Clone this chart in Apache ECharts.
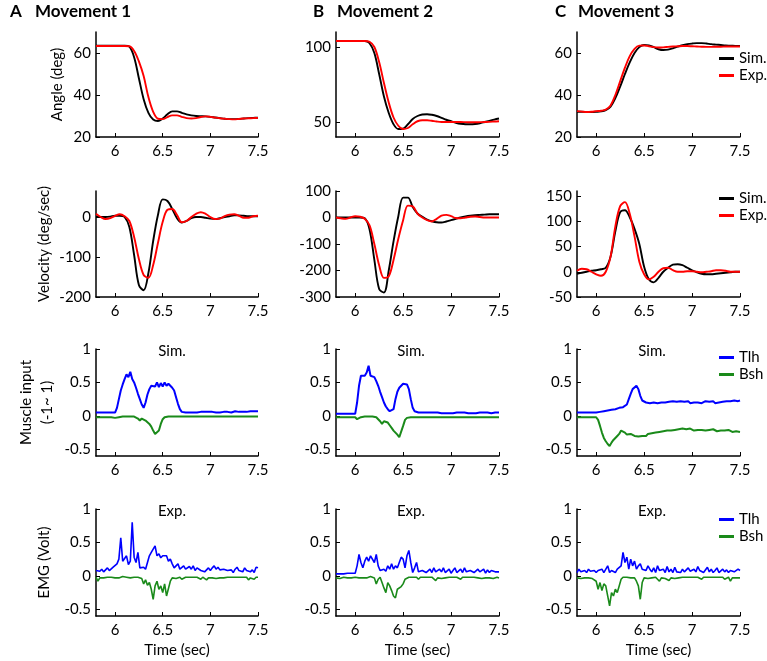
<!DOCTYPE html>
<html><head><meta charset="utf-8">
<script src="https://cdn.jsdelivr.net/npm/echarts@6/dist/echarts.min.js"></script>
<style>html,body{margin:0;padding:0;background:#fff}#c{width:767px;height:661px}</style>
</head><body><div id="c"></div>
<script>
// ---------- time bases ----------
const T1 = [5.8,5.85,5.9,5.95,6,6.05,6.1,6.15,6.2,6.25,6.3,6.35,6.4,6.45,6.5,6.55,6.6,6.65,6.7,6.75,6.8,6.85,6.9,6.95,7,7.05,7.1,7.15,7.2,7.25,7.3,7.35,7.4,7.45,7.5];
const T2 = [5.8,5.82,5.84,5.86,5.88,5.9,5.92,5.94,5.96,5.98,
 6,6.02,6.04,6.06,6.08,6.1,6.12,6.14,6.16,6.18,
 6.2,6.22,6.24,6.26,6.28,6.3,6.32,6.34,6.36,6.38,
 6.4,6.42,6.44,6.46,6.48,6.5,6.52,6.54,6.56,6.58,
 6.6,6.62,6.64,6.66,6.68,6.7,6.72,6.74,6.76,6.78,
 6.8,6.82,6.84,6.86,6.88,6.9,6.92,6.94,6.96,6.98,
 7,7.02,7.04,7.06,7.08,7.1,7.12,7.14,7.16,7.18,
 7.2,7.22,7.24,7.26,7.28,7.3,7.32,7.34,7.36,7.38,
 7.4,7.42,7.44,7.46,7.48,7.5];

// ---------- tick labels ----------
const xTicks = [6, 6.5, 7, 7.5];
const yTicksAngleA = [20, 40, 60];
const yTicksAngleB = [50, 100];
const yTicksAngleC = [20, 40, 60];
const yTicksVelA = [-200, -100, 0];
const yTicksVelB = [-300, -200, -100, 0, 100];
const yTicksVelC = [-50, 0, 50, 100, 150];
const yTicksMus = [-0.5, 0, 0.5, 1];

// ---------- angle (deg) ----------
const angleSimA = [63.5,63.5,63.5,63.5,63.5,63.5,63.5,63,58,48,38,31.5,28.3,27.6,28.8,30.8,32.2,32.2,31.5,30.8,30.3,30,29.9,29.8,29.6,29.3,29,28.7,28.5,28.5,28.6,28.8,29,29.1,29.2];
const angleExpA = [63.3,63.3,63.3,63.3,63.3,63.3,63.3,63.2,61,56,49,39,32,28.7,28.5,29.5,30.3,30.3,29.6,29,28.8,29,29.5,29.8,29.6,29.2,28.9,28.7,28.5,28.4,28.6,28.8,28.9,29,29.1];
const angleSimB = [104,104,104,104,104,104,104,102.5,96,82,67,56,48.5,45.3,45.5,48.5,52,54,55,55.2,54.8,54,52.8,51.5,50.5,49.5,48.8,48.5,48.5,48.7,49.2,50,50.8,51.6,52.3];
const angleExpB = [104,104,104,104,104,104,104,103.5,100,90,76,63,53,47.5,45.3,46,48.5,50.5,51.2,51.2,50.8,50.3,50,50,50,50,50,49.9,49.8,49.8,49.9,50,50.1,50.3,50.5];
const angleSimC = [32,32,31.9,31.9,32,32.2,32.8,34.5,38.5,44,50,55.5,60,62.8,63.8,63.6,62.8,61.8,61.4,61.6,62.2,63,63.7,64.2,64.5,64.7,64.7,64.5,64.2,64,63.8,63.6,63.5,63.4,63.3];
const angleExpC = [32.3,32.1,31.9,32,32.3,32.5,33,35,40,46.5,53,58.5,62,63.5,63.6,63.2,62.8,62.6,62.7,62.9,63.1,63.2,63.3,63.3,63.2,63.1,63,62.9,62.9,63,63,63.1,63.1,63.1,63.1];

// ---------- velocity (deg/sec) ----------
const velSimA = [0,0,0,1,3,3,0,-25,-95,-170,-183,-140,-60,5,44,40,20,-3,-14,-10,-3,0,0,-2,-4,-5,-3,0,2,4,4,3,2,2,2];
const velExpA = [8,0,-5,-3,3,7,2,-10,-50,-105,-145,-152,-120,-65,-12,18,20,5,-13,-10,0,8,12,8,0,-5,-4,2,6,7,3,-2,-2,2,3];
const velSimB = [0,0,0,0,0,0,-3,-45,-160,-270,-283,-200,-90,5,75,75,40,15,3,-8,-14,-18,-19,-15,-10,-5,0,4,7,9,10,11,12,12,12];
const velExpB = [0,-3,-5,0,5,3,-5,-30,-100,-180,-228,-222,-160,-80,-10,45,42,15,0,-10,-15,-5,7,10,5,-2,-3,0,3,4,2,0,0,0,0];
const velSimC = [-4,-2,0,2,3,5,8,30,80,118,122,108,85,55,10,-15,-21,-12,0,8,14,15,13,8,3,-1,-4,-5,-5,-4,-3,-2,-1,0,0];
const velExpC = [2,6,5,0,-5,-8,0,30,90,130,138,115,70,20,-5,-15,-10,0,7,8,3,0,0,1,1,0,-1,0,1,3,3,2,0,0,0];

// ---------- simulated muscle input ----------
const simTlhA = [0.05,0.05,0.05,0.05,0.05,0.05,0.05,0.05,0.05,0.05,
 0.05,0.12,0.25,0.38,0.47,0.55,0.62,0.58,0.66,0.55,
 0.5,0.42,0.33,0.25,0.17,0.12,0.2,0.32,0.4,0.45,
 0.47,0.44,0.5,0.43,0.49,0.44,0.5,0.45,0.48,0.48,
 0.42,0.38,0.28,0.18,0.1,0.06,0.05,0.05,0.06,0.05,
 0.06,0.05,0.06,0.05,0.06,0.06,0.05,0.06,0.05,0.06,
 0.05,0.06,0.06,0.05,0.06,0.05,0.06,0.06,0.05,0.06,
 0.06,0.05,0.06,0.07,0.06,0.06,0.07,0.06,0.07,0.06,
 0.07,0.07,0.06,0.07,0.07,0.07];
const simBshA = [-0.02,-0.02,-0.02,-0.02,-0.02,-0.02,-0.02,-0.02,-0.02,-0.02,
 -0.03,-0.02,-0.02,-0.02,-0.01,-0.01,-0.01,-0.01,-0.01,-0.01,
 -0.01,-0.02,-0.04,-0.07,-0.04,-0.05,-0.07,-0.09,-0.12,-0.16,
 -0.22,-0.27,-0.28,-0.22,-0.12,-0.05,-0.02,-0.01,-0.01,-0.01,
 -0.01,-0.01,-0.01,-0.01,-0.01,-0.01,-0.01,-0.01,-0.01,-0.01,
 -0.01,-0.01,-0.01,-0.01,-0.01,-0.01,-0.01,-0.01,-0.01,-0.01,
 -0.01,-0.01,-0.01,-0.01,-0.01,-0.01,-0.01,-0.01,-0.01,-0.01,
 -0.01,-0.01,-0.01,-0.01,-0.01,-0.01,-0.01,-0.01,-0.01,-0.01,
 -0.01,-0.01,-0.01,-0.01,-0.01,-0.01];
const simTlhB = [0.03,0.03,0.03,0.03,0.03,0.03,0.03,0.03,0.03,0.03,
 0.03,0.2,0.45,0.6,0.62,0.6,0.65,0.75,0.6,0.62,
 0.58,0.52,0.45,0.36,0.28,0.2,0.14,0.1,0.07,0.05,
 0.1,0.25,0.36,0.42,0.44,0.48,0.46,0.47,0.4,0.25,
 0.12,0.07,0.05,0.05,0.04,0.05,0.04,0.05,0.04,0.05,
 0.04,0.05,0.04,0.05,0.05,0.04,0.05,0.04,0.05,0.04,
 0.05,0.04,0.05,0.05,0.04,0.05,0.04,0.05,0.05,0.04,
 0.05,0.04,0.05,0.04,0.05,0.05,0.04,0.05,0.04,0.05,
 0.05,0.04,0.05,0.05,0.04,0.05];
const simBshB = [-0.02,-0.02,-0.02,-0.02,-0.02,-0.02,-0.02,-0.02,-0.02,-0.02,
 -0.02,-0.05,-0.03,-0.02,-0.02,-0.01,-0.01,-0.01,-0.01,-0.01,
 -0.01,-0.02,-0.04,-0.08,-0.12,-0.08,-0.07,-0.1,-0.14,-0.18,
 -0.22,-0.25,-0.28,-0.32,-0.3,-0.15,-0.06,-0.03,-0.02,-0.02,
 -0.02,-0.02,-0.02,-0.02,-0.02,-0.02,-0.02,-0.02,-0.02,-0.02,
 -0.02,-0.02,-0.02,-0.02,-0.02,-0.02,-0.02,-0.02,-0.02,-0.02,
 -0.02,-0.02,-0.02,-0.02,-0.02,-0.02,-0.02,-0.02,-0.02,-0.02,
 -0.02,-0.02,-0.02,-0.02,-0.02,-0.02,-0.02,-0.02,-0.02,-0.02,
 -0.02,-0.02,-0.02,-0.02,-0.02,-0.02];
const simTlhC = [0.05,0.05,0.05,0.05,0.05,0.05,0.05,0.05,0.05,0.05,
 0.05,0.05,0.06,0.06,0.07,0.07,0.08,0.09,0.09,0.1,
 0.1,0.11,0.12,0.12,0.13,0.14,0.17,0.25,0.33,0.4,
 0.42,0.45,0.4,0.3,0.23,0.21,0.2,0.22,0.19,0.21,
 0.2,0.22,0.19,0.21,0.2,0.22,0.2,0.19,0.21,0.2,
 0.22,0.2,0.21,0.19,0.22,0.2,0.21,0.2,0.22,0.19,
 0.21,0.2,0.22,0.2,0.21,0.19,0.2,0.22,0.2,0.21,
 0.2,0.22,0.19,0.21,0.2,0.22,0.21,0.2,0.22,0.21,
 0.22,0.21,0.23,0.21,0.22,0.23];
const simBshC = [-0.02,-0.02,-0.02,-0.02,-0.02,-0.02,-0.02,-0.02,-0.02,-0.02,
 -0.02,-0.06,-0.15,-0.25,-0.33,-0.38,-0.42,-0.45,-0.4,-0.36,
 -0.33,-0.3,-0.27,-0.22,-0.2,-0.25,-0.28,-0.3,-0.27,-0.29,
 -0.3,-0.28,-0.31,-0.29,-0.3,-0.28,-0.3,-0.27,-0.29,-0.26,
 -0.27,-0.25,-0.26,-0.24,-0.25,-0.23,-0.24,-0.22,-0.23,-0.22,
 -0.22,-0.21,-0.22,-0.2,-0.21,-0.19,-0.21,-0.2,-0.21,-0.19,
 -0.2,-0.22,-0.2,-0.21,-0.19,-0.21,-0.2,-0.22,-0.2,-0.21,
 -0.22,-0.2,-0.21,-0.23,-0.21,-0.22,-0.2,-0.22,-0.23,-0.21,
 -0.22,-0.24,-0.22,-0.23,-0.25,-0.24];

// ---------- experimental EMG (Volt) ----------
const emgTlhA = [0.08,0.1,0.07,0.1,0.06,0.09,0.12,0.08,0.1,0.13,
 0.12,0.18,0.25,0.57,0.22,0.2,0.3,0.17,0.22,0.8,
 0.28,0.2,0.35,0.12,0.1,0.13,0.1,0.2,0.3,0.35,
 0.4,0.45,0.3,0.33,0.27,0.3,0.28,0.3,0.22,0.25,
 0.18,0.12,0.15,0.18,0.1,0.12,0.15,0.1,0.08,0.14,
 0.1,0.15,0.08,0.12,0.14,0.08,0.1,0.06,0.09,0.12,
 0.08,0.12,0.15,0.1,0.13,0.09,0.07,0.1,0.12,0.08,
 0.06,0.09,0.05,0.1,0.13,0.08,0.1,0.06,0.12,0.08,
 0.1,0.06,0.09,0.05,0.13,0.12];
const emgBshA = [-0.02,-0.08,-0.03,-0.02,-0.03,-0.01,-0.02,-0.03,-0.02,-0.02,
 -0.03,-0.02,-0.03,-0.02,-0.01,-0.03,-0.02,-0.02,-0.03,-0.02,
 -0.02,-0.03,-0.02,-0.02,-0.04,-0.12,-0.06,-0.14,-0.1,-0.2,
 -0.35,-0.15,-0.08,-0.2,-0.15,-0.25,-0.12,-0.3,-0.28,-0.08,
 -0.03,-0.02,-0.04,-0.03,-0.02,-0.05,-0.03,-0.02,-0.03,-0.02,
 -0.03,-0.02,-0.04,-0.02,-0.03,-0.05,-0.02,-0.03,-0.06,-0.03,
 -0.02,-0.03,-0.02,-0.04,-0.02,-0.03,-0.02,-0.03,-0.05,-0.02,
 -0.03,-0.02,-0.04,-0.02,-0.03,-0.02,-0.04,-0.02,-0.03,-0.02,
 -0.06,-0.03,-0.02,-0.05,-0.02,-0.02];
const emgTlhB = [0.03,0.04,0.03,0.04,0.03,0.03,0.04,0.03,0.04,0.04,
 0.04,0.15,0.32,0.2,0.12,0.22,0.28,0.22,0.3,0.32,
 0.2,0.32,0.15,0.08,0.07,0.1,0.07,0.15,0.1,0.18,
 0.1,0.15,0.12,0.2,0.28,0.25,0.12,0.3,0.38,0.2,
 0.05,0.12,0.2,0.06,0.05,0.08,0.1,0.05,0.06,0.1,
 0.05,0.12,0.06,0.04,0.1,0.06,0.12,0.05,0.04,0.1,
 0.04,0.08,0.12,0.05,0.04,0.1,0.05,0.12,0.06,0.04,
 0.08,0.1,0.05,0.04,0.1,0.06,0.05,0.1,0.04,0.09,
 0.05,0.08,0.1,0.06,0.05,0.06];
const emgBshB = [-0.03,-0.02,-0.04,-0.03,-0.02,-0.04,-0.03,-0.02,-0.03,-0.03,
 -0.02,-0.01,-0.03,-0.02,-0.03,-0.01,-0.03,-0.02,-0.01,-0.03,
 -0.03,-0.12,-0.05,-0.02,-0.1,-0.18,-0.25,-0.1,-0.15,-0.22,
 -0.3,-0.33,-0.2,-0.22,-0.16,-0.12,-0.05,-0.03,-0.02,-0.04,
 -0.02,-0.03,-0.02,-0.05,-0.02,-0.03,-0.02,-0.04,-0.02,-0.03,
 -0.02,-0.04,-0.07,-0.03,-0.02,-0.04,-0.02,-0.03,-0.05,-0.02,
 -0.03,-0.02,-0.04,-0.02,-0.03,-0.05,-0.02,-0.03,-0.02,-0.04,
 -0.02,-0.03,-0.02,-0.04,-0.03,-0.02,-0.04,-0.02,-0.03,-0.02,
 -0.03,-0.02,-0.04,-0.02,-0.02,-0.03];
const emgTlhC = [0.05,0.1,0.06,0.05,0.08,0.05,0.1,0.07,0.05,0.08,
 0.05,0.08,0.06,0.1,0.05,0.07,0.15,0.05,0.08,0.06,
 0.05,0.1,0.08,0.15,0.35,0.2,0.28,0.1,0.25,0.15,
 0.22,0.1,0.15,0.18,0.1,0.12,0.08,0.15,0.1,0.06,
 0.12,0.05,0.15,0.08,0.06,0.1,0.05,0.14,0.06,0.1,
 0.05,0.13,0.06,0.08,0.05,0.1,0.06,0.05,0.12,0.07,
 0.05,0.1,0.06,0.14,0.08,0.1,0.05,0.07,0.13,0.06,
 0.1,0.05,0.08,0.12,0.05,0.07,0.1,0.06,0.09,0.05,
 0.08,0.1,0.06,0.05,0.1,0.08];
const emgBshC = [-0.03,-0.02,-0.04,-0.02,-0.03,-0.02,-0.03,-0.02,-0.04,-0.03,
 -0.08,-0.2,-0.1,-0.22,-0.12,-0.15,-0.3,-0.45,-0.25,-0.3,
 -0.2,-0.25,-0.15,-0.05,-0.02,-0.03,-0.02,-0.04,-0.03,-0.05,
 -0.03,-0.08,-0.15,-0.35,-0.1,-0.03,-0.02,-0.04,-0.02,-0.03,
 -0.05,-0.02,-0.04,-0.08,-0.03,-0.02,-0.04,-0.02,-0.07,-0.03,
 -0.02,-0.04,-0.02,-0.03,-0.05,-0.02,-0.03,-0.02,-0.04,-0.02,
 -0.03,-0.02,-0.04,-0.02,-0.03,-0.05,-0.02,-0.03,-0.02,-0.04,
 -0.02,-0.03,-0.02,-0.04,-0.02,-0.03,-0.02,-0.05,-0.03,-0.02,
 -0.08,-0.03,-0.02,-0.03,-0.04,-0.03];

// ---------- layout / style ----------
const FONT = 'Lato';
const COLORS = {'Sim.':'#000000','Exp.':'#ff0000','Tlh':'#0000ff','Bsh':'#1a8a1a'};
const colLeft = [96, 336, 577];
const colWidth = [162, 163, 163];
const rowTop = [32, 191, 349, 509];
const rowHeight = [105, 106, 107, 107];
const rowLineWidth = [1.9, 1.9, 2, 1.6];

const zip = (t, v) => t.map((x, i) => [x, v[i]]);

const panels = [
  {c:0,r:0,min:20,max:70,ticks:yTicksAngleA,name:'Angle (deg)',gap:28,s:[['Sim.',T1,angleSimA],['Exp.',T1,angleExpA]]},
  {c:1,r:0,min:40,max:110,ticks:yTicksAngleB,s:[['Sim.',T1,angleSimB],['Exp.',T1,angleExpB]]},
  {c:2,r:0,min:20,max:70,ticks:yTicksAngleC,s:[['Sim.',T1,angleSimC],['Exp.',T1,angleExpC]]},
  {c:0,r:1,min:-200,max:65,ticks:yTicksVelA,name:'Velocity (deg/sec)',gap:41,s:[['Sim.',T1,velSimA],['Exp.',T1,velExpA]]},
  {c:1,r:1,min:-300,max:100,ticks:yTicksVelB,s:[['Sim.',T1,velSimB],['Exp.',T1,velExpB]]},
  {c:2,r:1,min:-50,max:160,ticks:yTicksVelC,s:[['Sim.',T1,velSimC],['Exp.',T1,velExpC]]},
  {c:0,r:2,min:-0.6,max:1,ticks:yTicksMus,name:'Muscle input\n(-1~ 1)',gap:38,s:[['Tlh',T2,simTlhA],['Bsh',T2,simBshA]]},
  {c:1,r:2,min:-0.6,max:1,ticks:yTicksMus,s:[['Tlh',T2,simTlhB],['Bsh',T2,simBshB]]},
  {c:2,r:2,min:-0.6,max:1,ticks:yTicksMus,s:[['Tlh',T2,simTlhC],['Bsh',T2,simBshC]]},
  {c:0,r:3,min:-0.6,max:1,ticks:yTicksMus,name:'EMG (Volt)',gap:41,s:[['Tlh',T2,emgTlhA],['Bsh',T2,emgBshA]]},
  {c:1,r:3,min:-0.6,max:1,ticks:yTicksMus,s:[['Tlh',T2,emgTlhB],['Bsh',T2,emgBshB]]},
  {c:2,r:3,min:-0.6,max:1,ticks:yTicksMus,s:[['Tlh',T2,emgTlhC],['Bsh',T2,emgBshC]]}
];

const grid = [], xAxis = [], yAxis = [], series = [];
const axisCommon = {
  axisLine: {show: true, onZero: false, lineStyle: {color: '#000', width: 1.5}},
  splitLine: {show: false},
  axisTick: {show: true, inside: true, length: 4, lineStyle: {color: '#000', width: 1}},
};
panels.forEach((p, i) => {
  grid.push({left: colLeft[p.c], top: rowTop[p.r], width: colWidth[p.c], height: rowHeight[p.r], containLabel: false});
  xAxis.push(Object.assign({}, axisCommon, {
    type: 'value', gridIndex: i, min: 5.8, max: 7.5,
    axisTick: Object.assign({}, axisCommon.axisTick, {customValues: xTicks}),
    axisLabel: {customValues: xTicks, color: '#000', fontFamily: FONT, fontSize: 15, margin: 7},
    name: p.r === 3 ? 'Time (sec)' : '', nameLocation: 'middle', nameGap: 27,
    nameTextStyle: {color: '#000', fontFamily: FONT, fontSize: 15}
  }));
  yAxis.push(Object.assign({}, axisCommon, {
    type: 'value', gridIndex: i, min: p.min, max: p.max,
    axisTick: Object.assign({}, axisCommon.axisTick, {customValues: p.ticks}),
    axisLabel: {customValues: p.ticks, color: '#000', fontFamily: FONT, fontSize: 15, margin: 5},
    name: p.name || '', nameLocation: 'middle', nameGap: p.gap || 30,
    nameTextStyle: {color: '#000', fontFamily: FONT, fontSize: 15, lineHeight: 21}
  }));
  p.s.forEach(([nm, t, v]) => {
    series.push({
      type: 'line', name: nm, xAxisIndex: i, yAxisIndex: i,
      data: zip(t, v), showSymbol: false, symbol: 'none',
      smooth: p.r < 2 ? 0.35 : false,
      lineStyle: {color: COLORS[nm], width: rowLineWidth[p.r]},
      itemStyle: {color: COLORS[nm]},
      z: nm === 'Exp.' || nm === 'Bsh' ? 3 : 2
    });
  });
});

const titleStyleBold = {color: '#000', fontFamily: FONT, fontSize: 17, fontWeight: 'bold'};
const subStyle = {color: '#000', fontFamily: FONT, fontSize: 15, fontWeight: 'normal'};
const title = [
  {text: 'A', left: 10, top: 3, padding: 0, textStyle: titleStyleBold},
  {text: 'Movement 1', left: 35, top: 3, padding: 0, textStyle: titleStyleBold},
  {text: 'B', left: 313, top: 3, padding: 0, textStyle: titleStyleBold},
  {text: 'Movement 2', left: 337, top: 3, padding: 0, textStyle: titleStyleBold},
  {text: 'C', left: 555, top: 3, padding: 0, textStyle: titleStyleBold},
  {text: 'Movement 3', left: 578, top: 3, padding: 0, textStyle: titleStyleBold},
  {text: 'Sim.', left: 172, top: 344, padding: 0, textAlign: 'center', textStyle: subStyle},
  {text: 'Sim.', left: 411, top: 344, padding: 0, textAlign: 'center', textStyle: subStyle},
  {text: 'Sim.', left: 652, top: 344, padding: 0, textAlign: 'center', textStyle: subStyle},
  {text: 'Exp.', left: 172, top: 504, padding: 0, textAlign: 'center', textStyle: subStyle},
  {text: 'Exp.', left: 411, top: 504, padding: 0, textAlign: 'center', textStyle: subStyle},
  {text: 'Exp.', left: 652, top: 504, padding: 0, textAlign: 'center', textStyle: subStyle}
];

const legendBase = {
  orient: 'vertical', left: 719, padding: 0, itemGap: 0, itemWidth: 15, itemHeight: 3,
  icon: 'rect', selectedMode: false,
  textStyle: {color: '#000', fontFamily: FONT, fontSize: 15, lineHeight: 17}
};
const legend = [
  Object.assign({}, legendBase, {top: 50, data: ['Sim.', 'Exp.']}),
  Object.assign({}, legendBase, {top: 190, data: ['Sim.', 'Exp.']}),
  Object.assign({}, legendBase, {top: 349, data: ['Tlh', 'Bsh']}),
  Object.assign({}, legendBase, {top: 511, data: ['Tlh', 'Bsh']})
];

const chart = echarts.init(document.getElementById('c'), null, {renderer: 'canvas'});
chart.setOption({animation: false, backgroundColor: '#fff', title, legend, grid, xAxis, yAxis, series});
</script></body></html>
